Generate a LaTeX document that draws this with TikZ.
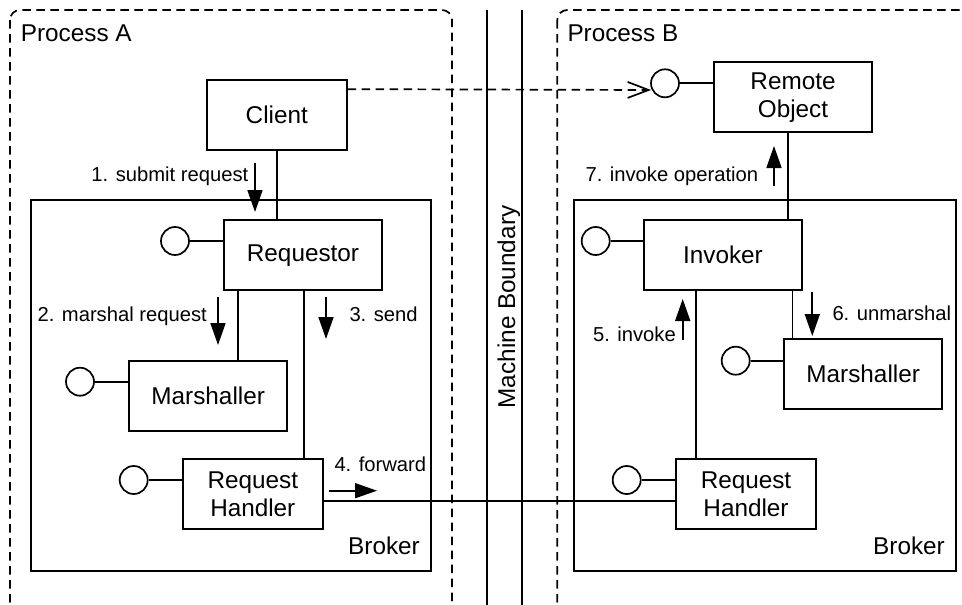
\documentclass[tikz,border=0pt]{standalone}
\usepackage{fontspec}
\setmainfont{Liberation Sans}
\usetikzlibrary{arrows.meta,calc}
\tikzset{
  ln/.style={line width=1.7pt},
  box/.style={draw, ln, rectangle, minimum height=70pt, inner sep=0pt, align=center,
    font=\fontsize{24.3}{28}\selectfont},
  wbox/.style={box, minimum width=158pt},
  nbox/.style={box, minimum width=140pt},
  lolli/.style={draw, ln, circle, minimum size=28pt, inner sep=0pt},
  lbl/.style={inner sep=0pt, font=\fontsize{20.2}{24}\selectfont},
  big/.style={inner sep=0pt, font=\fontsize{24.3}{28}\selectfont},
  msg/.style={ln, -{Triangle[length=22pt,width=15pt]}},
  proc/.style={ln, dash pattern=on 8.5pt off 5.5pt, rounded corners=10pt},
}
\begin{document}
\begin{tikzpicture}[x=1pt,y=-1pt]
\useasboundingbox (0,0) rectangle (962,605);
\clip (0,0) rectangle (962,605);
\fill[white] (0,0) rectangle (962,605);

% process areas
\draw[proc] (10,10) rectangle (452,612);
\draw[proc] (557.3,10) rectangle (980,612);
\node[big, anchor=base west] (pa) at (20.7,41.7) {Process A};
\node[big, anchor=base west] (pb) at (567.3,41.7) {Process B};

% machine boundary
\draw[ln] (486.7,10) -- (486.7,610);
\draw[ln] (521.7,10) -- (521.7,610);
\node[big, rotate=90, anchor=base] (mb) at (515,307) {Machine Boundary};

% brokers
\draw[ln] (31,200) rectangle (431,570.7);
\draw[ln] (574.3,200) rectangle (956,570.7);
\node[big, anchor=base east] (ba) at (420,554) {Broker};
\node[big, anchor=base east] (bb) at (945,554) {Broker};

% Process A components
\node[nbox] (client) at (276.8,115) {Client};
\node[wbox, fill=white] (req) at (303,255.3) {Requestor};
\node[wbox] (marA) at (208.2,395.7) {Marshaller};
\node[nbox] (rhA) at (252.8,493.8) {Request\\Handler};

\node[lolli] (lreq) at (175,241) {};
\node[lolli] (lmarA) at (80,381.7) {};
\node[lolli] (lrhA) at (133.7,480) {};
\draw[ln] (lreq.east) -- (lreq -| req.west);
\draw[ln] (lmarA.east) -- (lmarA -| marA.west);
\draw[ln] (lrhA.east) -- (lrhA -| rhA.west);

\draw[ln] (client.south) -- (client.south |- req.north);
\draw[ln] ([xshift=14.7pt]req.south west) -- ([xshift=14.7pt]req.south west |- marA.north);
\draw[ln] ([xshift=81pt]req.south west) -- ([xshift=81pt]req.south west |- rhA.north);

% Process B components
\node[wbox] (ro) at (793,97.3) {Remote\\Object};
\node[wbox] (inv) at (723,255.3) {Invoker};
\node[wbox] (marB) at (863.2,374.3) {Marshaller};
\node[nbox] (rhB) at (746,493.8) {Request\\Handler};

\node[lolli] (lro) at (665,83.3) {};
\node[lolli] (linv) at (595.7,241) {};
\node[lolli] (lmarB) at (735.7,360.7) {};
\node[lolli] (lrhB) at (626.7,480) {};
\draw[ln] (lro.east) -- (lro -| ro.west);
\draw[ln] (linv.east) -- (linv -| inv.west);
\draw[ln] (lmarB.east) -- (lmarB -| marB.west);
\draw[ln] (lrhB.east) -- (lrhB -| rhB.west);

\draw[ln] ([xshift=-4.7pt]ro.south) -- ([xshift=-4.7pt]ro.south |- inv.north);
\draw[ln] ([xshift=52.7pt]inv.south west) -- ([xshift=52.7pt]inv.south west |- rhB.north);
\draw[ln] ([xshift=149.3pt]inv.south west) -- ([xshift=149.3pt]inv.south west |- marB.north);

% cross-machine connection
\draw[ln] ([yshift=-7.2pt]rhA.east) -- ([yshift=-7.2pt]rhA.east -| rhB.west);

% dashed dependency
\coordinate (dtip) at (651,90);
\draw[ln, dash pattern=on 8.5pt off 5.5pt, -{Straight Barb[length=21pt,width=16pt]}]
  ([yshift=-10pt]client.north east) -- (dtip);

% message arrows and labels
\draw[msg] (255,163) -- (255,212);
\node[lbl, anchor=base east] (m1) at (248.5,181.5) {1. submit request};
\draw[msg] (218,297) -- (218,345);
\node[lbl, anchor=base east] (m2) at (207,321.7) {2. marshal request};
\draw[msg] (326,297) -- (326,339);
\node[lbl, anchor=base west] (m3) at (349.3,321.7) {3. send};
\draw[msg] (329,490.7) -- (377,490.7);
\node[lbl, anchor=base west] (m4) at (334.3,471.7) {4. forward};
\draw[msg] (682.7,340) -- (682.7,299);
\node[lbl, anchor=base east] (m5) at (676,341.7) {5. invoke};
\draw[msg] (812.3,292) -- (812.3,336);
\node[lbl, anchor=base west] (m6) at (832.3,320.7) {6. unmarshal};
\draw[msg] (774,186) -- (774,146);
\node[lbl, anchor=base east] (m7) at (758.3,181.7) {7. invoke operation};
\end{tikzpicture}
\end{document}
